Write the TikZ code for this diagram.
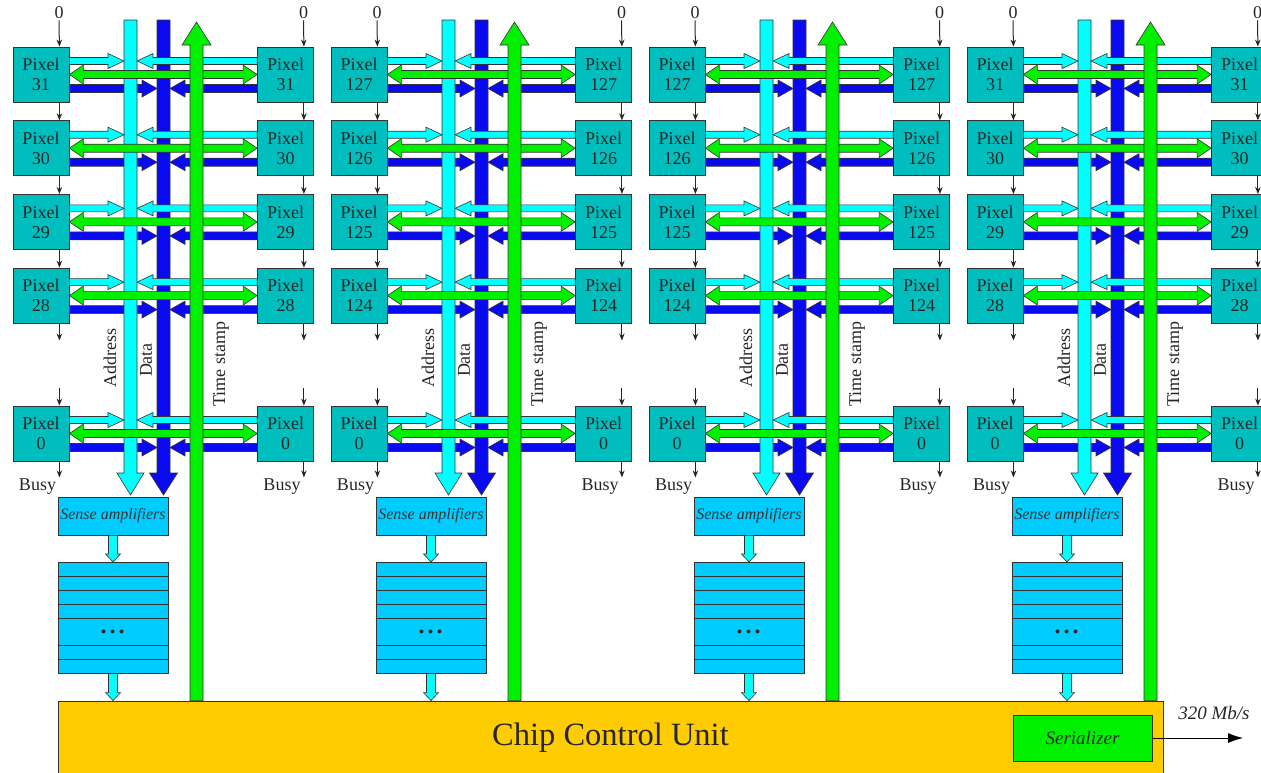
\documentclass[tikz,border=0pt]{standalone}
\usepackage{fontspec}
\setmainfont{Liberation Serif}
\usetikzlibrary{arrows.meta,calc}
\definecolor{pixfill}{HTML}{00BEBE}
\definecolor{addrcyan}{HTML}{00FFFF}
\definecolor{datablue}{HTML}{0A0AF0}
\definecolor{tsgreen}{HTML}{00F000}
\definecolor{senseblue}{HTML}{00CCFF}
\definecolor{ccuorange}{HTML}{FFCC00}
\definecolor{edgegray}{HTML}{333333}
% block arrow: style, from, to, shaft half width, head half width, head length
\newcommand{\blockarrow}[6]{%
  \coordinate (hb) at ($(#3)!#6!(#2)$);
  \draw[#1] ($(#2)!#4!90:(#3)$) -- ($(hb)!#4!90:(#3)$) -- ($(hb)!#5!90:(#3)$) -- (#3)
    -- ($(hb)!#5!-90:(#3)$) -- ($(hb)!#4!-90:(#3)$) -- ($(#2)!#4!-90:(#3)$) -- cycle;}
\newcommand{\dblarrow}[6]{%
  \coordinate (hb1) at ($(#2)!#6!(#3)$);
  \coordinate (hb2) at ($(#3)!#6!(#2)$);
  \draw[#1] (#2) -- ($(hb1)!#5!90:(#3)$) -- ($(hb1)!#4!90:(#3)$) -- ($(hb2)!#4!90:(#3)$)
    -- ($(hb2)!#5!90:(#3)$) -- (#3) -- ($(hb2)!#5!-90:(#3)$) -- ($(hb2)!#4!-90:(#3)$)
    -- ($(hb1)!#4!-90:(#3)$) -- ($(hb1)!#5!-90:(#3)$) -- cycle;}

\begin{document}
\begin{tikzpicture}[x=1pt,y=-1pt,
  pixel/.style={draw=edgegray,fill=pixfill,line width=0.8pt,minimum width=56,minimum height=55,
    inner sep=0pt,align=center,font=\fontsize{18}{20}\selectfont,text=black!85},
  lbl/.style={font=\fontsize{18}{20}\selectfont,text=black!85,inner sep=1pt},
  addrarrow/.style={draw=edgegray,fill=addrcyan,line width=0.6pt},
  dataarrow/.style={draw=edgegray,fill=datablue,line width=0.6pt},
  tsarrow/.style={draw=edgegray,fill=tsgreen,line width=0.6pt},
  sig/.style={-{Stealth[length=7pt,width=5.5pt]},line width=1pt,black!85},
  sense/.style={draw=edgegray,fill=senseblue,line width=0.8pt,minimum width=110,minimum height=38,
    inner sep=0pt,font=\itshape\fontsize{16}{18}\selectfont,text=black!80},
  mem/.style={draw=edgegray,fill=senseblue,line width=0.8pt,minimum width=110,minimum height=110.7,inner sep=0pt}]
\useasboundingbox (0,0) rectangle (1261,772);

\node[draw=edgegray,fill=ccuorange,line width=0.8pt,minimum width=1105,minimum height=74,inner sep=0pt,
  font=\fontsize{32.5}{36}\selectfont,text=black!85] (ccu) at (610.5,738) {Chip Control Unit};
\node[draw=edgegray,fill=tsgreen,line width=0.8pt,minimum width=139,minimum height=46,inner sep=0pt,
  font=\itshape\fontsize{19}{22}\selectfont,text=black!85] (ser) at (1082.5,738) {Serializer};
\coordinate (out) at (1243,738);
\draw[line width=0.8pt,-{Latex[length=15pt,width=10pt]}] (ser.east) -- (out);
\node[lbl,font=\itshape\fontsize{19}{22}\selectfont] (rate) at (1214,713) {320 Mb/s};

\foreach \pn/\ox/\pa/\pb/\pc/\pd in {1/0/31/30/29/28,2/318/127/126/125/124,3/636/127/126/125/124,4/954/31/30/29/28}{
  \coordinate (aw) at (\ox+124,0); \coordinate (ae) at (\ox+137,0);
  \coordinate (dw) at (\ox+157,0); \coordinate (de) at (\ox+170,0);
  \coordinate (atop) at (\ox+130.5,20); \coordinate (abot) at (\ox+130.5,495);
  \coordinate (dtop) at (\ox+163.5,20); \coordinate (dbot) at (\ox+163.5,495);
  \coordinate (ttop) at (\ox+196.5,22); \coordinate (tbot) at (ccu.north -| ttop);
  \foreach \row/\num/\yy in {0/\pa/74.5,1/\pb/148.2,2/\pc/221.9,3/\pd/295.6,4/0/433.5}{
    \node[pixel] (L\pn\row) at (\ox+41,\yy) {Pixel\\\num};
    \node[pixel] (R\pn\row) at (\ox+285.5,\yy) {Pixel\\\num};
    \coordinate (bl) at ($(L\pn\row.east)+(0,14)$); \coordinate (blx) at (bl -| dw);
    \coordinate (br) at ($(R\pn\row.west)+(0,14)$); \coordinate (brx) at (br -| de);
    \blockarrow{dataarrow}{bl}{blx}{4pt}{8.5pt}{15pt}
    \blockarrow{dataarrow}{br}{brx}{4pt}{8.5pt}{15pt}
  }
  \blockarrow{addrarrow}{atop}{abot}{6.5pt}{13.5pt}{22pt}
  \blockarrow{dataarrow}{dtop}{dbot}{6.5pt}{14pt}{22pt}
  \foreach \row in {0,...,4}{
    \coordinate (cl) at ($(L\pn\row.east)+(0,-13.5)$); \coordinate (clx) at (cl -| aw);
    \coordinate (cr) at ($(R\pn\row.west)+(0,-13.5)$); \coordinate (crx) at (cr -| ae);
    \blockarrow{addrarrow}{cl}{clx}{3.5pt}{7.5pt}{16pt}
    \blockarrow{addrarrow}{cr}{crx}{3.5pt}{7.5pt}{16pt}
    \dblarrow{tsarrow}{L\pn\row.east}{R\pn\row.west}{4pt}{9.5pt}{14pt}
  }
  \blockarrow{tsarrow}{tbot}{ttop}{6.5pt}{14.5pt}{23pt}

  \node[lbl,rotate=90] (addr\pn) at (\ox+110,358) {Address};
  \node[lbl,rotate=90] (data\pn) at (\ox+146,360) {Data};
  \node[lbl,rotate=90] (ts\pn) at (\ox+221,364) {Time stamp};

  \foreach \side in {L,R}{
    \draw[sig] ([xshift=-10]\side\pn0.south east) -- ([xshift=-10]\side\pn1.north east);
    \draw[sig] ([xshift=-10]\side\pn1.south east) -- ([xshift=-10]\side\pn2.north east);
    \draw[sig] ([xshift=-10]\side\pn2.south east) -- ([xshift=-10]\side\pn3.north east);
    \draw[sig] ([xshift=-10]\side\pn3.south east) -- ++(0,17);
    \draw[sig] ([xshift=-10,yshift=18]\side\pn4.north east) -- ([xshift=-10]\side\pn4.north east);
    \draw[sig] ([xshift=-10]\side\pn4.south east) -- ++(0,16);
  }
  \node[lbl] (zl\pn) at (\ox+59,13) {0};
  \node[lbl] (zr\pn) at (\ox+303.5,13) {0};
  \draw[sig] (zl\pn.south) -- ([xshift=-10]L\pn0.north east);
  \draw[sig] (zr\pn.south) -- ([xshift=-10]R\pn0.north east);
  \node[lbl] (busyl\pn) at (\ox+37.5,487) {Busy};
  \node[lbl] (busyr\pn) at (\ox+282,487) {Busy};

  \node[sense] (sa\pn) at (\ox+113,516) {Sense amplifiers};
  \node[mem] (mem\pn) at (\ox+113,617.7) {};
  \foreach \h in {14.4,28.4,42.4,56,83.4,97}
    \draw[edgegray,line width=0.8pt] ($(mem\pn.north west)+(0,\h)$) -- ($(mem\pn.north east)+(0,\h)$);
  \node[font=\bfseries\fontsize{24}{24}\selectfont,inner sep=0pt,text=black!85] (dots\pn) at (\ox+112.5,631.5) {.\hspace{3pt}.\hspace{3pt}.};
  \coordinate (mc) at (mem\pn.south |- ccu.north);
  \blockarrow{addrarrow}{sa\pn.south}{mem\pn.north}{4.5pt}{7.5pt}{8pt}
  \blockarrow{addrarrow}{mem\pn.south}{mc}{4.5pt}{7.5pt}{8pt}
}
\end{tikzpicture}
\end{document}
